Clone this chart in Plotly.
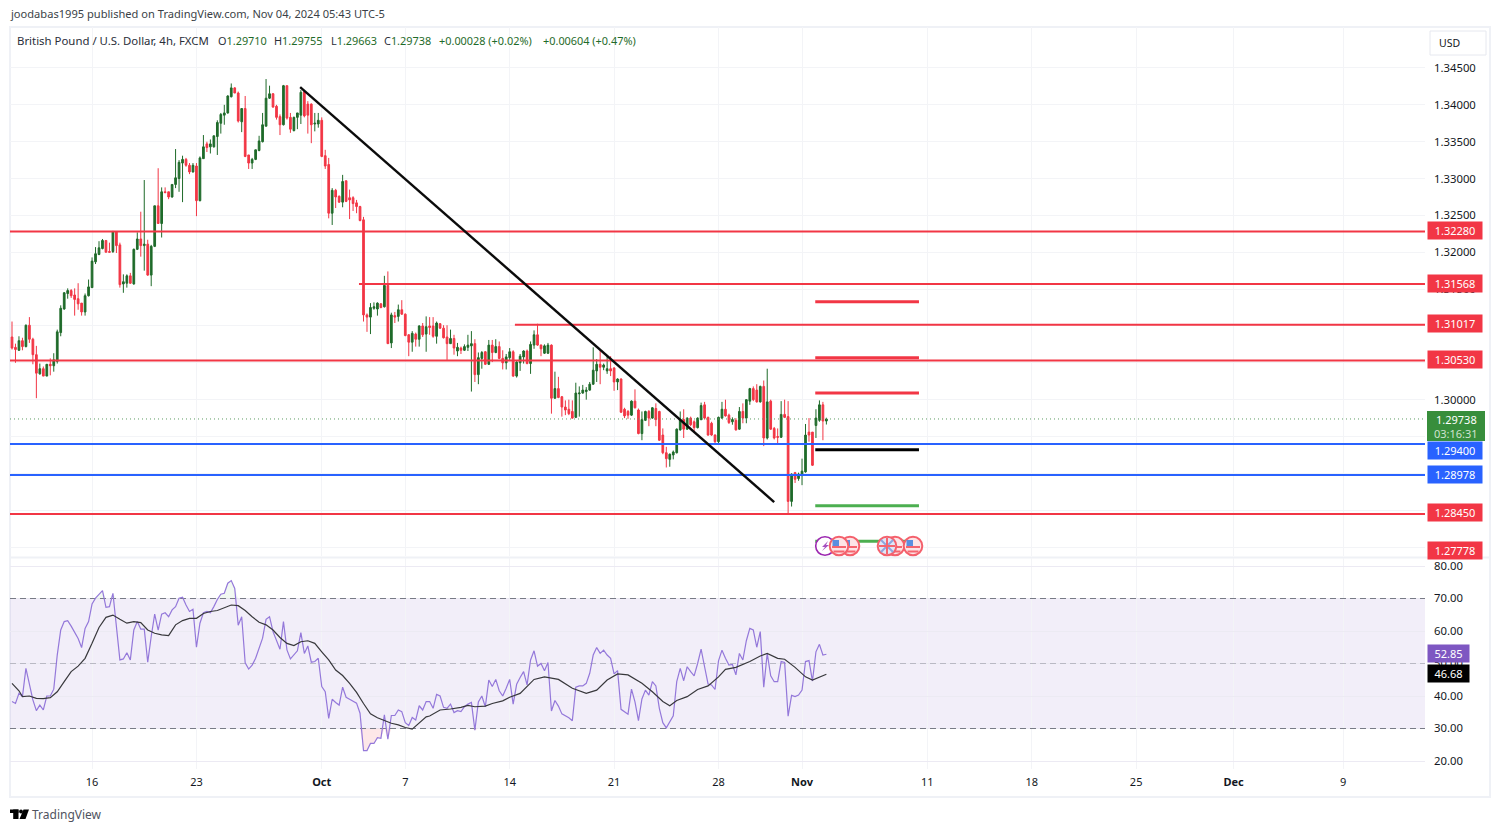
import plotly.graph_objects as go

# ---------- data ----------
opens = [
1.3085,1.3071,1.3067,1.3080,1.3072,1.3101,1.3082,1.3061,1.3035,1.3042,
1.3032,1.3048,1.3046,1.3052,1.3091,1.3123,1.3144,1.3148,1.3142,1.3137,
1.3131,1.3119,1.3141,1.3152,1.3187,1.3197,1.3205,1.3216,1.3201,1.3201,
1.3228,1.3210,1.3157,1.3158,1.3168,1.3157,1.3204,1.3218,1.3209,1.3211,
1.3169,1.3208,1.3263,1.3239,1.3282,1.3282,1.3275,1.3292,1.3300,1.3321,
1.3326,1.3318,1.3309,1.3317,1.3270,1.3327,1.3347,1.3343,1.3343,1.3357,
1.3375,1.3386,1.3389,1.3411,1.3423,1.3416,1.3377,1.3395,1.3332,1.3321,
1.3326,1.3338,1.3350,1.3371,1.3409,1.3415,1.3398,1.3384,1.3373,1.3426,
1.3383,1.3365,1.3383,1.3386,1.3418,1.3401,1.3401,1.3374,1.3374,1.3379,
1.3331,1.3319,1.3253,1.3284,1.3276,1.3268,1.3297,1.3274,1.3274,1.3267,
1.3262,1.3244,1.3115,1.3112,1.3124,1.3123,1.3130,1.3126,1.3155,1.3077,
1.3114,1.3113,1.3122,1.3116,1.3088,1.3078,1.3089,1.3082,1.3100,1.3089,
1.3100,1.3100,1.3086,1.3103,1.3097,1.3085,1.3076,1.3083,1.3066,1.3070,
1.3067,1.3071,1.3073,1.3076,1.3034,1.3056,1.3065,1.3048,1.3074,1.3064,
1.3072,1.3056,1.3050,1.3057,1.3065,1.3032,1.3050,1.3058,1.3066,1.3049,
1.3074,1.3088,1.3074,1.3063,1.3063,1.3074,1.3002,1.3015,1.3004,1.2990,
1.2987,1.2984,1.2976,1.3008,1.3009,1.3011,1.3013,1.3021,1.3039,1.3048,
1.3044,1.3039,1.3042,1.3043,1.3024,1.3028,1.2987,1.2984,1.2979,1.2998,
1.2986,1.2954,1.2972,1.2984,1.2975,1.2988,1.2984,1.2952,1.2928,1.2919,
1.2925,1.2928,1.2959,1.2973,1.2960,1.2975,1.2970,1.2962,1.2973,1.2993,
1.2976,1.2968,1.2952,1.2943,1.2975,1.2987,1.2979,1.2970,1.2972,1.2960,
1.2984,1.2975,1.2998,1.3015,1.3013,1.2997,1.3018,1.2948,1.2998,1.2961,
1.2950,1.2949,1.2980,1.2977,1.2862,1.2901,1.2893,1.2897,1.2902,1.2956,
1.2956,1.2965,1.2972,1.2993,1.29710]
closes = [
1.3070,1.3068,1.3080,1.3072,1.3101,1.3082,1.3061,1.3036,1.3042,1.3032,
1.3048,1.3046,1.3054,1.3092,1.3124,1.3145,1.3148,1.3141,1.3136,1.3130,
1.3119,1.3141,1.3153,1.3188,1.3198,1.3206,1.3216,1.3200,1.3200,1.3228,
1.3209,1.3156,1.3160,1.3168,1.3158,1.3204,1.3218,1.3209,1.3211,1.3169,
1.3208,1.3263,1.3239,1.3282,1.3281,1.3275,1.3292,1.3301,1.3322,1.3326,
1.3318,1.3309,1.3318,1.3270,1.3328,1.3343,1.3342,1.3347,1.3358,1.3376,
1.3387,1.3389,1.3412,1.3423,1.3416,1.3378,1.3395,1.3330,1.3321,1.3326,
1.3339,1.3351,1.3373,1.3409,1.3415,1.3397,1.3383,1.3373,1.3426,1.3382,
1.3367,1.3383,1.3389,1.3417,1.3385,1.3386,1.3373,1.3375,1.3379,1.3330,
1.3317,1.3253,1.3284,1.3275,1.3268,1.3296,1.3269,1.3271,1.3266,1.3262,
1.3243,1.3115,1.3112,1.3125,1.3126,1.3131,1.3125,1.3155,1.3076,1.3115,
1.3112,1.3122,1.3116,1.3087,1.3078,1.3090,1.3082,1.3100,1.3088,1.3099,
1.3098,1.3086,1.3104,1.3097,1.3084,1.3076,1.3083,1.3070,1.3071,1.3067,
1.3072,1.3074,1.3076,1.3034,1.3057,1.3064,1.3048,1.3074,1.3064,1.3072,
1.3056,1.3050,1.3058,1.3065,1.3032,1.3051,1.3059,1.3066,1.3049,1.3075,
1.3088,1.3074,1.3069,1.3073,1.3074,1.3002,1.3015,1.3003,1.2990,1.2986,
1.2981,1.2975,1.3009,1.3009,1.3013,1.3013,1.3021,1.3040,1.3048,1.3044,
1.3047,1.3042,1.3039,1.3024,1.3028,1.2983,1.2978,1.2979,1.2998,1.2989,
1.2954,1.2973,1.2984,1.2975,1.2989,1.2973,1.2945,1.2928,1.2920,1.2926,
1.2929,1.2960,1.2973,1.2960,1.2975,1.2966,1.2962,1.2975,1.2992,1.2975,
1.2952,1.2952,1.2943,1.2976,1.2987,1.2978,1.2969,1.2973,1.2959,1.2984,
1.2975,1.3000,1.3015,1.3000,1.2997,1.3018,1.2948,1.2997,1.2960,1.2948,
1.2949,1.2980,1.2976,1.2862,1.2899,1.2892,1.2899,1.2903,1.2952,1.2952,
1.2911,1.2975,1.2993,1.2971,1.29738]
highs = [
1.3106,1.3076,1.3086,1.3084,1.3102,1.3112,1.3084,1.3073,1.3049,1.3045,
1.3048,1.3056,1.3063,1.3095,1.3128,1.3146,1.3151,1.3150,1.3151,1.3158,
1.3131,1.3144,1.3163,1.3193,1.3207,1.3215,1.3218,1.3216,1.3213,1.3229,
1.3228,1.3213,1.3170,1.3170,1.3172,1.3205,1.3227,1.3255,1.3298,1.3217,
1.3210,1.3263,1.3314,1.3288,1.3288,1.3282,1.3292,1.3340,1.3325,1.3331,
1.3328,1.3321,1.3321,1.3321,1.3330,1.3359,1.3350,1.3353,1.3358,1.3379,
1.3389,1.3400,1.3413,1.3429,1.3424,1.3418,1.3395,1.3412,1.3332,1.3328,
1.3339,1.3358,1.3389,1.3435,1.3426,1.3416,1.3400,1.3387,1.3427,1.3426,
1.3389,1.3384,1.3389,1.3420,1.3420,1.3405,1.3402,1.3389,1.3389,1.3383,
1.3339,1.3328,1.3287,1.3286,1.3277,1.3305,1.3297,1.3285,1.3276,1.3271,
1.3263,1.3248,1.3117,1.3131,1.3132,1.3132,1.3131,1.3168,1.3174,1.3118,
1.3119,1.3129,1.3135,1.3117,1.3089,1.3093,1.3091,1.3101,1.3104,1.3113,
1.3112,1.3112,1.3106,1.3104,1.3101,1.3101,1.3095,1.3088,1.3077,1.3072,
1.3075,1.3088,1.3093,1.3082,1.3064,1.3066,1.3066,1.3081,1.3081,1.3082,
1.3079,1.3067,1.3062,1.3070,1.3067,1.3053,1.3062,1.3067,1.3068,1.3079,
1.3094,1.3103,1.3075,1.3075,1.3077,1.3075,1.3038,1.3031,1.3005,1.2999,
1.3000,1.2999,1.3023,1.3018,1.3020,1.3017,1.3024,1.3071,1.3055,1.3067,
1.3049,1.3060,1.3059,1.3044,1.3029,1.3029,1.2989,1.2986,1.2999,1.3014,
1.2988,1.2984,1.2985,1.2986,1.2990,1.2995,1.2985,1.2961,1.2936,1.2927,
1.2931,1.2961,1.2984,1.2987,1.2976,1.2977,1.2972,1.2976,1.2996,1.2997,
1.2977,1.2970,1.2953,1.2977,1.2997,1.3000,1.2981,1.2976,1.2975,1.2990,
1.2995,1.3000,1.3016,1.3018,1.3021,1.3019,1.3026,1.3042,1.3000,1.2963,
1.2961,1.2998,1.3000,1.2998,1.2900,1.2902,1.2901,1.2920,1.2967,1.2975,
1.2956,1.2987,1.2999,1.2997,1.29755]
lows = [
1.3068,1.3050,1.3066,1.3067,1.3071,1.3077,1.3048,1.3002,1.3034,1.3032,
1.3032,1.3033,1.3038,1.3049,1.3086,1.3122,1.3137,1.3138,1.3114,1.3122,
1.3114,1.3114,1.3140,1.3152,1.3184,1.3196,1.3204,1.3200,1.3200,1.3199,
1.3199,1.3152,1.3145,1.3152,1.3157,1.3156,1.3203,1.3194,1.3175,1.3168,
1.3154,1.3207,1.3239,1.3220,1.3280,1.3272,1.3274,1.3287,1.3282,1.3268,
1.3316,1.3306,1.3308,1.3249,1.3269,1.3327,1.3336,1.3334,1.3342,1.3332,
1.3361,1.3373,1.3388,1.3410,1.3416,1.3376,1.3363,1.3329,1.3313,1.3313,
1.3325,1.3337,1.3349,1.3371,1.3408,1.3396,1.3380,1.3359,1.3372,1.3380,
1.3362,1.3364,1.3367,1.3374,1.3383,1.3361,1.3348,1.3364,1.3369,1.3329,
1.3313,1.3246,1.3237,1.3260,1.3267,1.3261,1.3268,1.3245,1.3256,1.3253,
1.3242,1.3106,1.3092,1.3089,1.3122,1.3114,1.3124,1.3125,1.3076,1.3070,
1.3104,1.3106,1.3115,1.3086,1.3059,1.3065,1.3072,1.3072,1.3085,1.3065,
1.3088,1.3084,1.3076,1.3096,1.3083,1.3054,1.3076,1.3061,1.3059,1.3062,
1.3066,1.3066,1.3011,1.3024,1.3021,1.3042,1.3047,1.3047,1.3051,1.3063,
1.3055,1.3041,1.3041,1.3053,1.3031,1.3030,1.3039,1.3049,1.3048,1.3035,
1.3069,1.3073,1.3059,1.3062,1.3062,1.2981,1.3001,1.3002,1.2977,1.2979,
1.2979,1.2974,1.2975,1.2977,1.3008,1.3000,1.3012,1.3020,1.3024,1.3021,
1.3040,1.3035,1.3032,1.3012,1.3013,1.2982,1.2975,1.2974,1.2978,1.2988,
1.2953,1.2945,1.2971,1.2964,1.2974,1.2964,1.2944,1.2926,1.2908,1.2909,
1.2919,1.2927,1.2958,1.2948,1.2959,1.2964,1.2955,1.2961,1.2972,1.2973,
1.2951,1.2951,1.2941,1.2941,1.2974,1.2977,1.2967,1.2966,1.2958,1.2959,
1.2968,1.2968,1.2993,1.2998,1.2996,1.2996,1.2937,1.2946,1.2959,1.2946,
1.2941,1.2948,1.2975,1.2846,1.2855,1.2887,1.2890,1.2884,1.2901,1.2943,
1.2910,1.2948,1.2970,1.2945,1.29663]

rsi = [
38.3,37.7,40.8,39.8,48.5,43.9,38.8,35.5,37.2,35.7,
40.0,40.0,42.1,52.6,60.3,62.9,63.2,61.5,59.8,57.7,
54.9,60.8,62.9,68.3,70.1,71.4,72.4,67.3,67.5,71.6,
61.3,51.1,51.4,53.3,51.1,60.3,62.9,60.6,60.6,50.4,
58.3,65.2,60.3,65.2,65.6,64.4,66.5,67.5,70.1,70.4,
68.0,66.0,66.7,55.0,62.4,65.6,66.0,65.6,67.5,69.7,
71.3,71.6,74.7,75.5,73.1,61.8,64.4,50.2,48.3,49.5,
51.6,54.7,57.8,63.6,64.4,59.8,57.2,54.4,62.9,54.2,
51.4,52.8,53.9,59.5,53.1,55.4,50.4,50.6,51.6,42.9,
41.3,33.1,39.0,38.0,37.2,42.7,39.6,39.0,38.5,37.8,
34.7,23.2,23.2,25.4,25.4,27.2,27.0,34.2,26.7,34.0,
34.0,35.7,35.2,31.8,30.9,33.4,32.6,37.0,35.7,38.3,
38.3,36.2,40.5,40.0,36.5,36.2,37.5,34.9,35.5,35.2,
36.7,37.5,38.0,29.5,38.2,40.0,36.7,44.9,42.9,45.1,
41.6,40.0,42.4,45.1,37.5,43.6,45.7,47.5,43.4,51.1,
53.9,49.2,50.0,47.8,50.3,35.4,38.6,36.9,34.5,33.9,
33.3,32.4,42.7,43.1,43.1,43.9,47.0,52.6,54.9,53.1,
54.1,52.6,51.6,46.8,47.8,35.9,35.1,34.4,42.1,38.2,
32.4,39.1,41.8,40.3,44.4,43.1,36.2,31.8,30.2,31.9,
33.9,44.4,48.5,44.7,49.0,47.5,46.2,50.0,54.4,49.0,
43.7,43.4,42.0,50.8,54.1,51.6,49.5,49.7,46.5,53.1,
51.1,57.0,60.8,60.3,55.0,59.8,42.7,53.1,46.2,44.4,
44.4,50.6,50.3,33.8,40.2,39.8,40.3,41.8,50.6,50.9,
44.6,53.6,55.9,52.6,52.85]

rsi_ma_bars = [0,2,3,5,7,9,11,13,15,17,19,21,23,25,27,29,31,33,35,37,39,41,43,45,47,49,51,53,55,57,59,61,63,65,67,69,71,73,75,77,79,81,83,85,87,89,91,93,95,97,99,101,103,105,107,109,111,113,115,117,119,120,123,126,129,131,133,136,138,141,143,146,148,150,153,157,161,165,168,171,174,177,181,184,187,189,191,194,197,200,203,205,208,212,215,217,220,222,225,228,230,234]
rsi_ma = [43.9,41.6,39.8,40.0,39.3,39.2,39.5,41.3,44.4,47.5,49.2,51.6,56.2,61.1,64.2,64.9,63.6,62.4,62.9,62.6,60.3,59.3,58.8,58.6,61.9,63.2,63.9,63.9,65.4,66.0,66.3,67.2,68.0,67.8,66.3,64.4,62.7,61.9,60.3,58.0,56.2,55.5,56.7,57.0,56.2,53.6,51.1,48.0,46.3,43.9,41.1,37.7,34.5,33.3,32.4,31.6,31.1,30.3,29.8,31.6,33.6,33.85,35.7,36.0,36.5,37.1,36.7,36.9,37.7,38.5,39.6,40.8,43.1,45.1,45.9,45.1,42.4,40.8,41.8,44.9,46.8,46.5,43.9,41.3,38.3,37.0,38.6,39.8,42.0,43.1,45.9,48.2,48.8,50.6,52.3,53.1,51.6,51.3,48.8,45.9,44.9,46.68]

x_labels = ["16","23","<b>Oct</b>","7","14","21","28","<b>Nov</b>","11","18","25","<b>Dec</b>","9"]
x_label_bars = [23,53,89,113,143,173,203,227,263,293,323,351,382.5]

price_ticks = [1.345,1.34,1.335,1.33,1.325,1.32,1.315,1.31,1.305,1.30,1.295,1.29,1.285,1.28]
rsi_ticks = [20,30,40,50,60,70,80]

red_levels = [1.32280,1.31568,1.31017,1.30530,1.28450]
red_level_starts = [None,99.7,144.5,None,None]
blue_levels = [1.29400,1.28978]
hidden_red_level = 1.27778
last_price = 1.29738
last_countdown = "03:16:31"
rsi_now, rsi_ma_now = 52.85, 46.68

trend_bars, trend_prices = [82.8,219.0], [1.3424,1.2861]
short_bars = [230.8,260.6]
short_red = [1.3133,1.3057,1.3009]
short_black = 1.2932
short_green = [1.2856,1.2808]

# ---------- palette and frame ----------
W, H = 1500, 831
L_PX, R_PX = 10, 1425
M_TOP, M_BOT = 27, 556
R_TOP, R_BOT = 558, 769
RED, BLUE, GREEN, DARK = "#f23645", "#2962ff", "#1f6b2a", "#131722"
GRID = "#f3f4f7"
FONT = "Noto Sans"
XMIN, XMAX = -0.575, 406.0

def px(v): return v / W
def py(v): return 1 - v / H

bars = list(range(len(opens)))
fig = go.Figure()

# RSI overflow fills
fig.add_trace(go.Scatter(x=bars, y=[30]*len(rsi), xaxis="x2", yaxis="y2", mode="lines",
                         line=dict(width=0), hoverinfo="skip", showlegend=False))
fig.add_trace(go.Scatter(x=bars, y=[min(v,30) for v in rsi], xaxis="x2", yaxis="y2", mode="lines",
                         line=dict(width=0), fill="tonexty", fillcolor="rgba(242,54,69,0.12)",
                         hoverinfo="skip", showlegend=False))
fig.add_trace(go.Scatter(x=bars, y=[70]*len(rsi), xaxis="x2", yaxis="y2", mode="lines",
                         line=dict(width=0), hoverinfo="skip", showlegend=False))
fig.add_trace(go.Scatter(x=bars, y=[max(v,70) for v in rsi], xaxis="x2", yaxis="y2", mode="lines",
                         line=dict(width=0), fill="tonexty", fillcolor="rgba(76,175,80,0.08)",
                         hoverinfo="skip", showlegend=False))
# RSI reference lines
for lvl, col in ((70,"#787b86"),(50,"#b9b9c4"),(30,"#787b86")):
    fig.add_trace(go.Scatter(x=[XMIN,XMAX], y=[lvl,lvl], xaxis="x2", yaxis="y2", mode="lines",
                             line=dict(color=col, width=1, dash="6px,4px"), hoverinfo="skip", showlegend=False))
fig.add_trace(go.Scatter(x=bars, y=rsi, xaxis="x2", yaxis="y2", mode="lines",
                         line=dict(color="#9478da", width=1.2), showlegend=False))
fig.add_trace(go.Scatter(x=rsi_ma_bars, y=rsi_ma, xaxis="x2", yaxis="y2", mode="lines",
                         line=dict(color="#38383c", width=1.2), showlegend=False))

# last price dotted
fig.add_trace(go.Scatter(x=[XMIN,XMAX], y=[last_price,last_price], mode="lines",
                         line=dict(color="#5d9c63", width=1, dash="1px,3px"), hoverinfo="skip", showlegend=False))
# candles
fig.add_trace(go.Candlestick(x=bars, open=opens, high=highs, low=lows, close=closes,
                             increasing=dict(line=dict(color=GREEN, width=1), fillcolor=GREEN),
                             decreasing=dict(line=dict(color=RED, width=1), fillcolor=RED),
                             whiskerwidth=0, showlegend=False))
# levels
for lvl, st in zip(red_levels, red_level_starts):
    fig.add_trace(go.Scatter(x=[XMIN if st is None else st, XMAX], y=[lvl,lvl], mode="lines",
                             line=dict(color=RED, width=2), hoverinfo="skip", showlegend=False))
for lvl in blue_levels:
    fig.add_trace(go.Scatter(x=[XMIN, XMAX], y=[lvl,lvl], mode="lines",
                             line=dict(color=BLUE, width=2), hoverinfo="skip", showlegend=False))
fig.add_trace(go.Scatter(x=trend_bars, y=trend_prices, mode="lines",
                         line=dict(color="#0b0b0b", width=2.4), hoverinfo="skip", showlegend=False))
for lvl in short_red:
    fig.add_trace(go.Scatter(x=short_bars, y=[lvl,lvl], mode="lines",
                             line=dict(color=RED, width=3), hoverinfo="skip", showlegend=False))
fig.add_trace(go.Scatter(x=short_bars, y=[short_black,short_black], mode="lines",
                         line=dict(color="#000000", width=3), hoverinfo="skip", showlegend=False))
for lvl in short_green:
    fig.add_trace(go.Scatter(x=short_bars, y=[lvl,lvl], mode="lines",
                             line=dict(color="#4caf50", width=3), hoverinfo="skip", showlegend=False))

shapes = []
annots = []

# RSI band
shapes.append(dict(type="rect", xref="x2", yref="y2", x0=XMIN, x1=XMAX, y0=30, y1=70,
                   fillcolor="rgba(126,87,194,0.1)", line=dict(width=0), layer="below"))
# Frame
FRAME = "#eff1f6"
shapes.append(dict(type="rect", xref="paper", yref="paper", x0=px(10), x1=px(1490), y0=py(797), y1=py(27),
                   line=dict(color=FRAME, width=2), layer="below"))
shapes.append(dict(type="line", xref="paper", yref="paper", x0=px(10), x1=px(1490), y0=py(557.5), y1=py(557.5),
                   line=dict(color=FRAME, width=2), layer="below"))
# USD button
shapes.append(dict(type="rect", xref="paper", yref="paper", x0=px(1430), x1=px(1486), y0=py(55), y1=py(31),
                   line=dict(color="#e6e8ef", width=1), fillcolor="#ffffff"))

def note(x, y, text, size=11, color=DARK, anchor="left", **kw):
    annots.append(dict(xref="paper", yref="paper", x=px(x), y=py(y), text=text, showarrow=False,
                       xanchor=anchor, yanchor="middle", align=anchor,
                       font=dict(family=FONT, size=size, color=color), borderpad=0, **kw))

note(1437.5, 43.5, "USD", size=10.5)
note(8.5, 14, "joodabas1995 published on TradingView.com, Nov 04, 2024 05:43 UTC-5", size=11.1, color="#3b3f47")
note(15.5, 41, "British Pound / U.S. Dollar, 4h, FXCM", size=11.4, color="#2a2e39")
GV = "#1f6b2a"
for x, lab, val in ((217,"O","1.29710"),(273,"H","1.29755"),(330,"L","1.29663"),(383,"C","1.29738")):
    note(x, 41, f'<span style="color:#2a2e39">{lab}</span>{val}', size=10.9, color=GV)
note(438, 41, "+0.00028 (+0.02%)", size=10.9, color=GV)
note(542, 41, "+0.00604 (+0.47%)", size=10.9, color=GV)

# Price labels
def price_label(val, col, fmt="{:.5f}", yref="y", y=None, width=50, text=None, x=1427, h=13):
    annots.append(dict(xref="paper", yref=yref, x=px(x), y=val if y is None else y, xanchor="left", yanchor="middle",
                       text=text or fmt.format(val), showarrow=False, width=width, height=h, align="center",
                       bgcolor=col, borderpad=2, yshift=1, font=dict(family=FONT, size=11, color="#ffffff")))

for lvl in red_levels:
    price_label(lvl, RED)
price_label(hidden_red_level, RED, yref="paper", y=py(551.5))
price_label(blue_levels[1], BLUE)
# the live-price box with its countdown
shapes.append(dict(type="rect", xref="paper", yref="paper", x0=px(1427), x1=px(1485), y0=py(441), y1=py(411),
                   fillcolor="#388e3c", line=dict(width=0)))
note(1456, 419.5, f"{last_price:.5f}", size=11, color="#ffffff", anchor="center")
note(1456, 433.5, last_countdown, size=11, color="#cfe3d0", anchor="center")
# this label is pushed below the live-price box in the reference
price_label(blue_levels[0], BLUE, yref="paper", y=py(451.5))

price_label(rsi_now, "#7e57c2", fmt="{:.2f}", yref="y2", width=37)
price_label(rsi_ma_now, "#000000", fmt="{:.2f}", yref="y2", width=37)

# Event icons
def circle(cx, r, fill, line, lw=2, cy=546):
    shapes.append(dict(type="circle", xref="paper", yref="paper", x0=px(cx-r), x1=px(cx+r), y0=py(cy+r), y1=py(cy-r),
                       fillcolor=fill, line=dict(color=line, width=lw)))
def prect(x0, x1, y0, y1, fill):
    shapes.append(dict(type="rect", xref="paper", yref="paper", x0=px(x0), x1=px(x1), y0=py(y1), y1=py(y0),
                       fillcolor=fill, line=dict(width=0)))
def pline(x0, y0, x1, y1, col, lw):
    shapes.append(dict(type="line", xref="paper", yref="paper", x0=px(x0), x1=px(x1), y0=py(y0), y1=py(y1),
                       line=dict(color=col, width=lw)))
def us(cx):
    circle(cx, 9.3, "#fde4e6", "#f4606c", 2)
    prect(cx-7, cx+7, 546, 548, "#f5656f")
    prect(cx-5.5, cx+5.5, 550.5, 552.5, "#f5656f")
    prect(cx-6.5, cx, 540, 546, "#5b8fe0")
def uk(cx):
    circle(cx, 9.3, "#dfe6f6", "#f4606c", 2)
    pline(cx-6, 540, cx+6, 552, "#8ea6dd", 2)
    pline(cx+6, 540, cx-6, 552, "#8ea6dd", 2)
    prect(cx-8, cx+8, 545, 547, "#f5656f")
    prect(cx-1, cx+1, 538, 554, "#f5656f")

circle(825, 9.3, "#ffffff", "#9c27b0", 1.6)
shapes.append(dict(type="path", xref="paper", yref="paper",
                   path=f"M {px(828)} {py(541)} L {px(822)} {py(547)} L {px(825)} {py(547)} L {px(822)} {py(551)} L {px(829)} {py(545)} L {px(826)} {py(545)} Z",
                   fillcolor="#a64fc0", line=dict(width=0)))
us(850); us(839); us(895); uk(887); us(913)

# Logo and wordmark
LOGO = "#000000"
prect(10, 18.5, 809.5, 813, LOGO)
prect(13.2, 18.5, 809.5, 819, LOGO)
circle(21, 1.9, LOGO, LOGO, 0, cy=811.5)
shapes.append(dict(type="path", xref="paper", yref="paper",
                   path=f"M {px(23.5)} {py(809.5)} L {px(29)} {py(809.5)} L {px(25.5)} {py(819)} L {px(19.5)} {py(819)} Z",
                   fillcolor=LOGO, line=dict(width=0)))
note(31, 814, "TradingView", size=12, color="#50535e")

fig.update_layout(
    width=W, height=H, margin=dict(l=0, r=0, t=0, b=0),
    paper_bgcolor="#ffffff", plot_bgcolor="#ffffff", showlegend=False, hovermode=False,
    font=dict(family=FONT, size=11, color=DARK),
    shapes=shapes, annotations=annots,
    xaxis=dict(domain=[px(L_PX), px(R_PX)], range=[XMIN, XMAX], anchor="y",
               tickmode="array", tickvals=x_label_bars, ticktext=[""]*len(x_labels), showticklabels=False,
               showgrid=True, gridcolor=GRID, gridwidth=1, zeroline=False, showline=False, ticks="",
               rangeslider=dict(visible=False), layer="below traces"),
    yaxis=dict(domain=[py(M_BOT), py(M_TOP)], range=[1.27879, 1.35056], side="right", anchor="x",
               tickmode="array", tickvals=price_ticks, ticktext=[f"{t:.5f}" for t in price_ticks],
               showgrid=True, gridcolor=GRID, gridwidth=1, zeroline=False, showline=False, ticks="",
               ticklabelstandoff=8, tickfont=dict(family=FONT, size=11.3, color=DARK)),
    xaxis2=dict(domain=[px(L_PX), px(R_PX)], range=[XMIN, XMAX], anchor="y2",
                tickmode="array", tickvals=x_label_bars, ticktext=x_labels,
                showgrid=True, gridcolor=GRID, gridwidth=1, zeroline=False, showline=False, ticks="",
                ticklabelstandoff=5, tickfont=dict(family=FONT, size=11, color=DARK)),
    yaxis2=dict(domain=[py(R_BOT), py(R_TOP)], range=[17.54, 82.46], side="right", anchor="x2",
                tickmode="array", tickvals=rsi_ticks, ticktext=[f"{t:.2f}" for t in rsi_ticks],
                showgrid=True, gridcolor="#eceaf3", gridwidth=1, zeroline=False, showline=False, ticks="",
                ticklabelstandoff=8, tickfont=dict(family=FONT, size=11.3, color=DARK)),
)

fig.write_html("out.html", config=dict(displayModeBar=False),
               post_script="document.body.style.margin='0';document.documentElement.style.overflow='hidden';")
